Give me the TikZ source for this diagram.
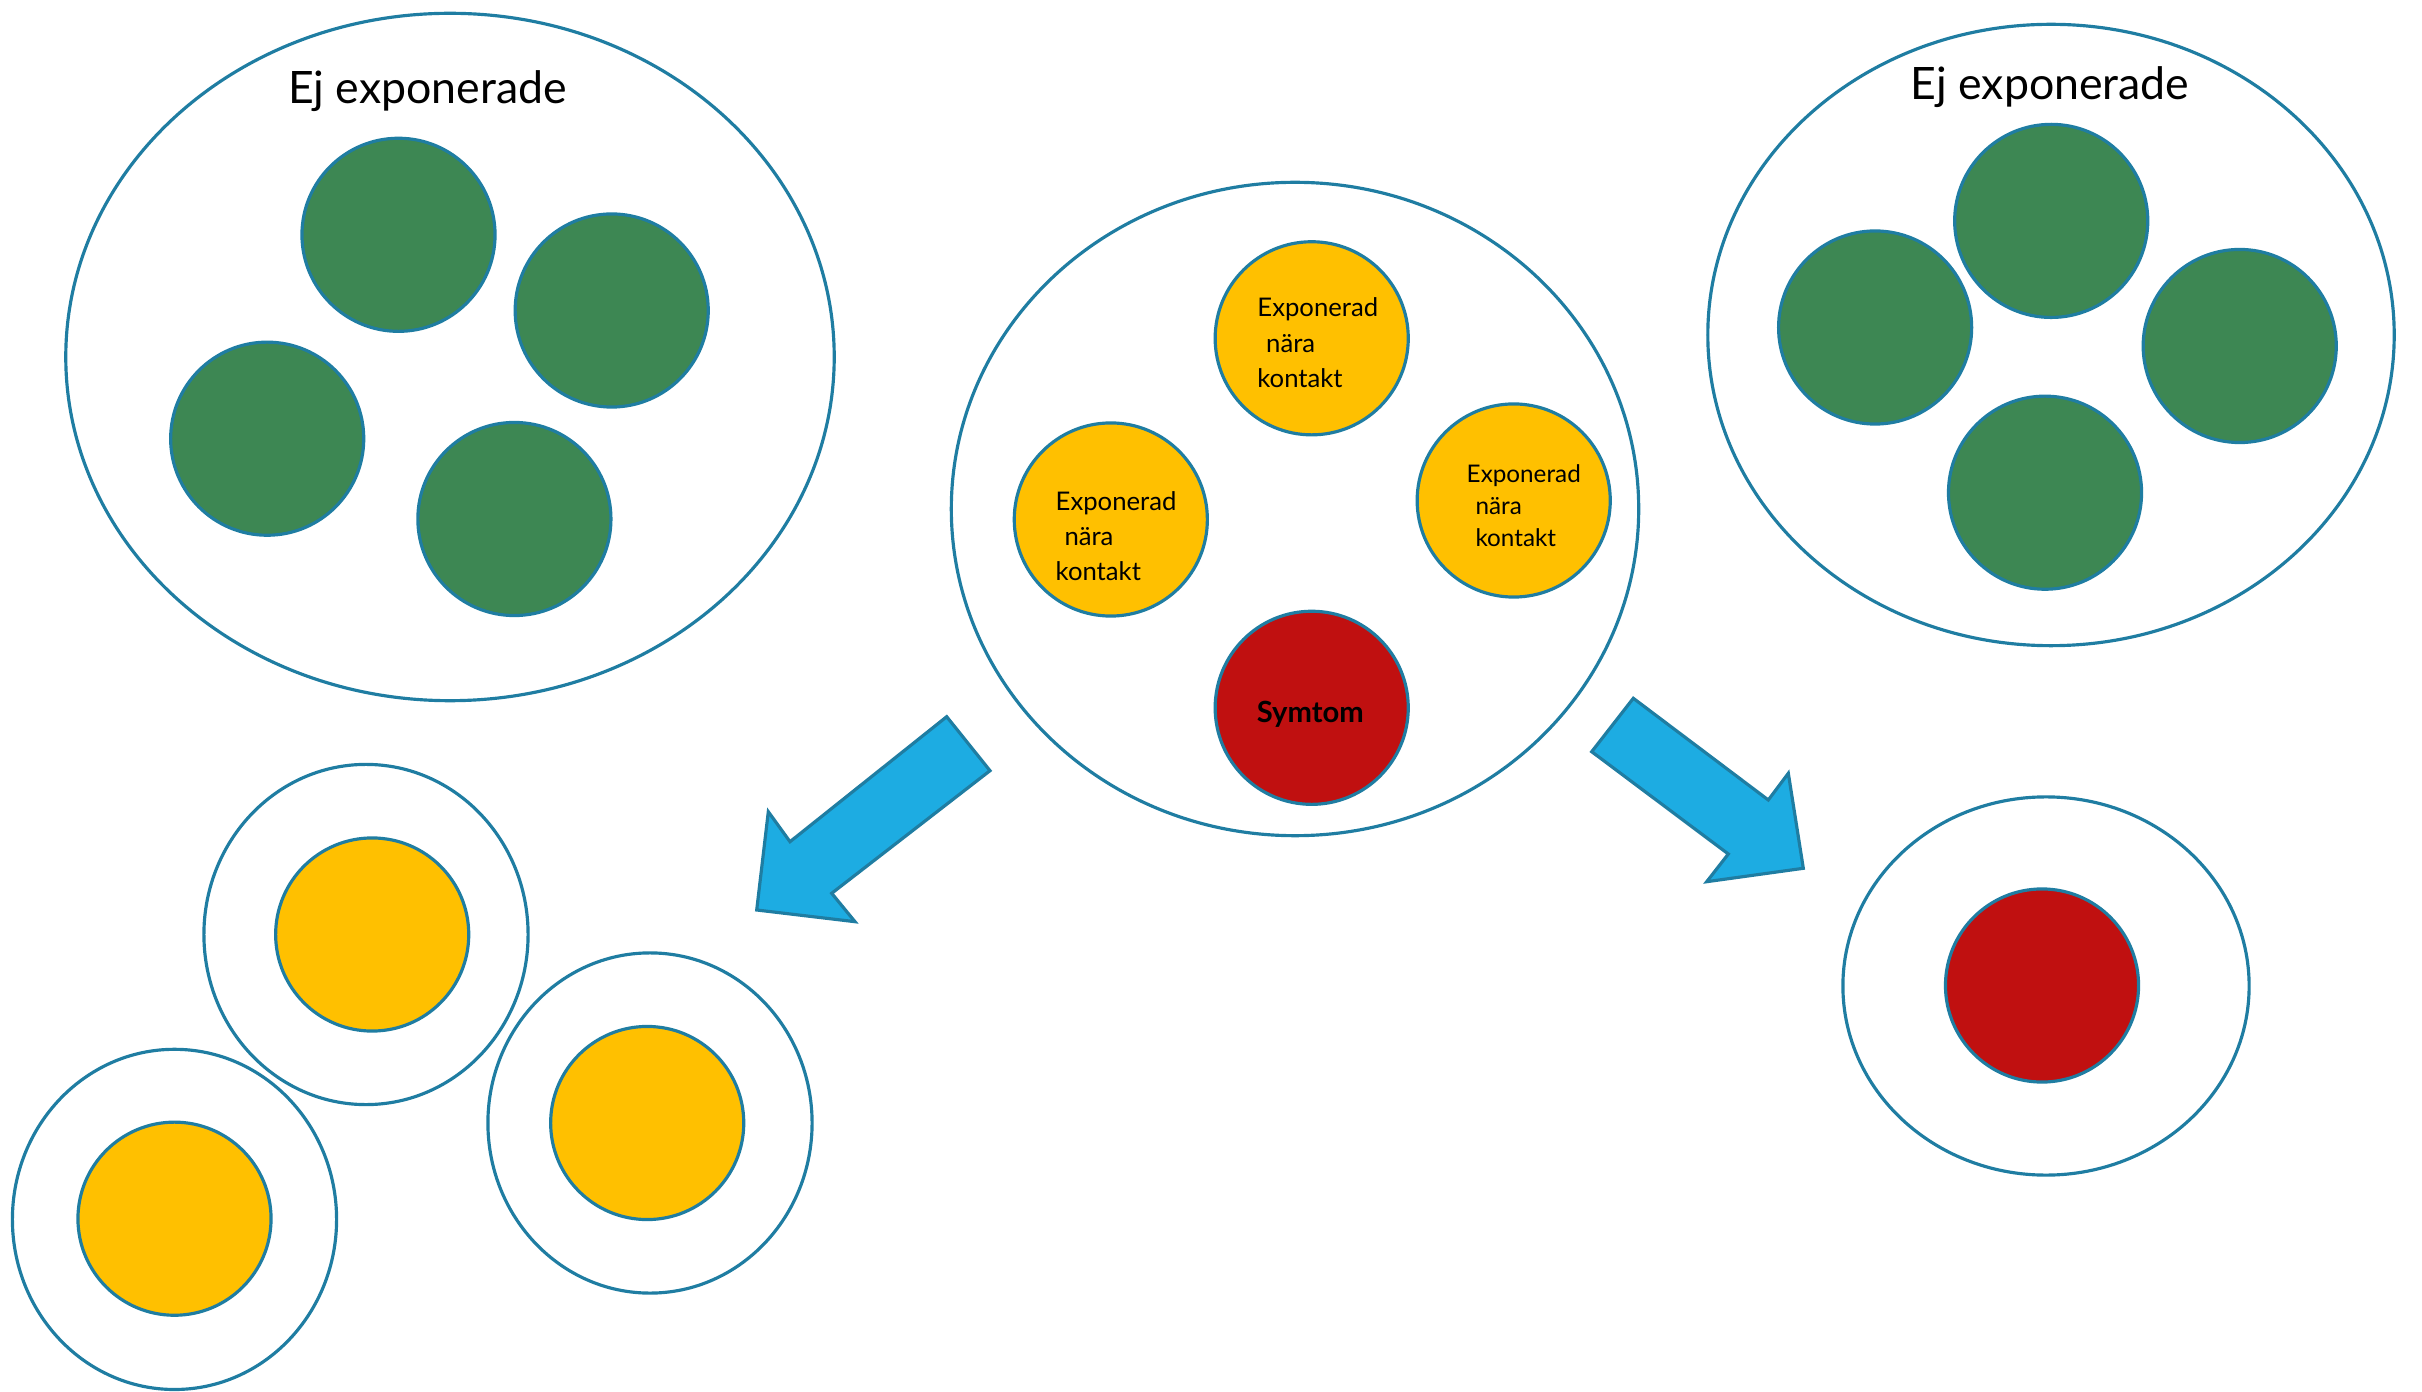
\documentclass[tikz,border=0pt]{standalone}
\usepackage{fontspec}
\setmainfont{Lato}
\usetikzlibrary{shapes.geometric}
\definecolor{edgeblue}{RGB}{31,125,162}
\definecolor{okgreen}{RGB}{61,135,83}
\definecolor{nearyellow}{RGB}{255,192,0}
\definecolor{sickred}{RGB}{192,16,16}
\definecolor{arrowblue}{RGB}{29,172,226}

\begin{document}
\begin{tikzpicture}[x=0.01cm,y=-0.01cm,
	grp/.style={draw=edgeblue,line width=0.9pt,fill=white,ellipse,inner sep=0pt},
	person/.style={draw=edgeblue,line width=0.9pt,circle,inner sep=0pt,minimum size=1.93cm},
	healthy/.style={person,fill=okgreen},
	exposed/.style={person,fill=nearyellow},
	sick/.style={person,fill=sickred},
	title/.style={font=\fontsize{12.7}{15}\selectfont,anchor=base},
	small/.style={font=\fontsize{7.3}{10}\selectfont,align=left,anchor=base west,inner sep=0pt},
	bigarrow/.style={draw=edgeblue,line width=0.9pt,fill=arrowblue,line join=miter}]
	
	\useasboundingbox (0,0) rectangle (2422,1392);
	
	% not exposed, left
	\node[grp,minimum width=7.68cm,minimum height=6.87cm] (leftgrp) at (450,357) {};
	\node[title] (lefttitle) at (427.5,103.3) {Ej exponerade};
	\foreach \x/\y [count=\i] in {398.5/234.8,611.7/310.5,267.2/438.7,514.4/519}
	{
		\node[healthy] (lg\i) at (\x,\y) {};
	}
	
	% not exposed, right
	\node[grp,minimum width=6.86cm,minimum height=6.21cm] (rightgrp) at (2051,335) {};
	\node[title] (righttitle) at (2050,100) {Ej exponerade};
	\foreach \x/\y [count=\i] in {2051.2/220.9,1875.1/327.5,2239.7/346,2045/492.7}
	{
		\node[healthy] (rg\i) at (\x,\y) {};
	}
	
	% the group with one case
	\node[grp,minimum width=6.87cm,minimum height=6.53cm] (midgrp) at (1295,509) {};
	\node[exposed] (ctop) at (1311.7,338.3) {};
	\node[exposed] (cleft) at (1110.8,519.5) {};
	\node[exposed] (cright) at (1513.7,500.5) {};
	\node[sick] (case) at (1311.7,707.8) {};
	% last line sits on the given point
	\node[small] (ttop) at (1256.7,387.3) {Exponerad\\\hspace{2.5pt}nära\\kontakt};
	\node[small] (tleft) at (1055,581) {Exponerad\\\hspace{2.5pt}nära\\kontakt};
	\node[small,font=\fontsize{6.9}{9.1}\selectfont] (tright) at (1466,546.7) {Exponerad\\\hspace{2.5pt}nära\\\hspace{2.5pt}kontakt};
	\node[font=\bfseries\fontsize{8.3}{10}\selectfont,anchor=base] (tcase) at (1310.3,722.7) {Symtom};
	
	% quarantined contacts
	\foreach \x/\y [count=\i] in {366/934.5,650/1123,174.5/1219.4}
	{
		\node[grp,minimum width=3.24cm,minimum height=3.4cm] (qg\i) at (\x,\y) {};
	}
	\node[exposed] (q1) at (372.2,934.5) {};
	\node[exposed] (q2) at (647.2,1123) {};
	\node[exposed] (q3) at (174.5,1218.7) {};
	
	% isolated case
	\node[grp,minimum width=4.06cm,minimum height=3.78cm] (isogrp) at (2046,986) {};
	\node[sick] (iso) at (2042,985.5) {};
	
	% block arrows
	\filldraw[bigarrow] (946.7,716.7) -- (990,770.7) -- (831.7,893.3) -- (855,921.7) -- (756.7,910) -- (768.3,811.7) -- (790,841.7) -- cycle;
	\filldraw[bigarrow] (1633.3,698.3) -- (1768.3,800) -- (1788.3,773.3) -- (1803.3,868.3) -- (1706.7,881.7) -- (1728.3,854) -- (1591.7,751.7) -- cycle;
\end{tikzpicture}
\end{document}
